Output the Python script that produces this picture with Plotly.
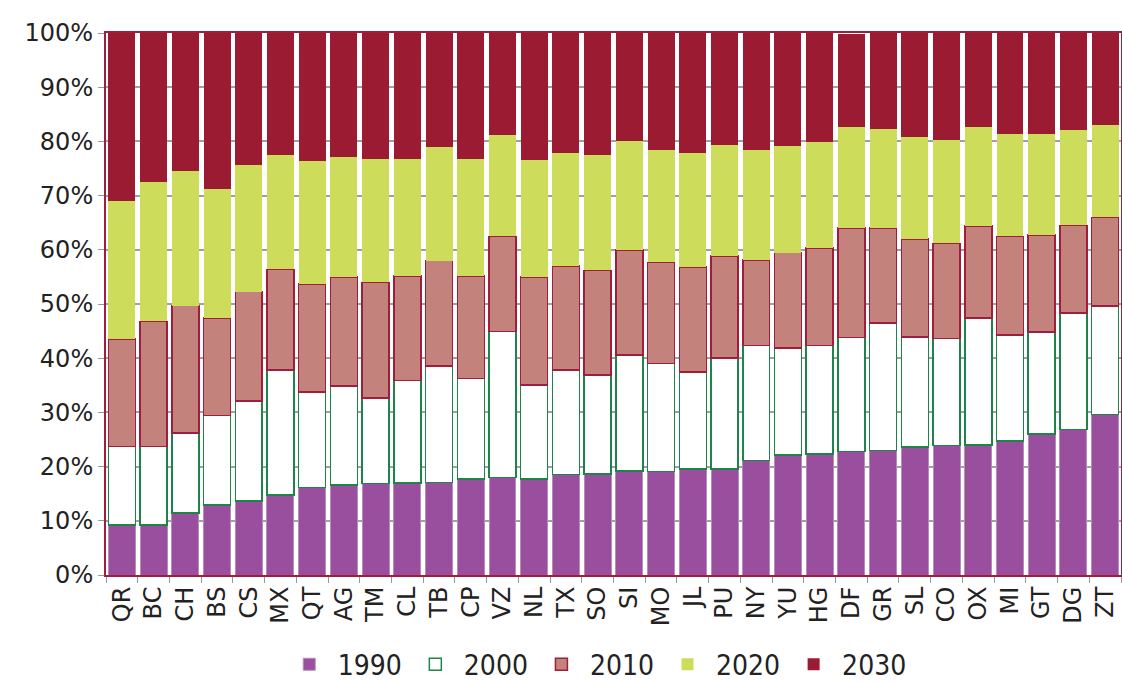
import plotly.graph_objects as go

states = ["QR","BC","CH","BS","CS","MX","QT","AG","TM","CL","TB","CP","VZ","NL","TX","SO",
          "SI","MO","JL","PU","NY","YU","HG","DF","GR","SL","CO","OX","MI","GT","DG","ZT"]

p1990 = [9.2, 9.2, 11.4, 12.9, 13.7, 14.8, 16.1, 16.6, 16.9, 17.0, 17.1, 17.7, 18.0, 17.7, 18.5, 18.6,
         19.2, 19.1, 19.6, 19.6, 21.1, 22.1, 22.3, 22.8, 23.0, 23.6, 23.9, 24.0, 24.7, 26.0, 26.8, 29.6]
p2000 = [14.5, 14.5, 14.8, 16.5, 18.4, 23.0, 17.7, 18.3, 15.8, 18.9, 21.5, 18.6, 26.9, 17.4, 19.3, 18.3,
         21.4, 19.9, 17.9, 20.4, 21.2, 19.8, 20.0, 21.0, 23.5, 20.3, 19.7, 23.4, 19.6, 18.8, 21.5, 20.0]
p2010 = [19.8, 23.1, 23.5, 18.0, 20.2, 18.6, 19.9, 20.1, 21.3, 19.3, 19.4, 18.9, 17.6, 19.9, 19.2, 19.3,
         19.4, 18.7, 19.3, 18.9, 15.8, 17.6, 18.0, 20.2, 17.5, 18.1, 17.6, 17.0, 18.2, 17.9, 16.2, 16.4]
p2020 = [25.5, 25.8, 24.8, 23.9, 23.4, 21.0, 22.6, 22.1, 22.7, 21.6, 20.9, 21.5, 18.7, 21.6, 20.9, 21.3,
         20.1, 20.7, 21.1, 20.5, 20.3, 19.7, 19.6, 18.7, 18.3, 18.9, 19.0, 18.2, 18.9, 18.7, 17.6, 17.0]
p2030 = [31.0, 27.4, 25.5, 28.7, 24.3, 22.6, 23.7, 22.9, 23.3, 23.2, 21.1, 23.3, 18.8, 23.4, 22.1, 22.5,
         19.9, 21.6, 22.1, 20.6, 21.6, 20.8, 20.1, 17.1, 17.7, 19.1, 19.8, 17.4, 18.6, 18.6, 17.9, 17.0]

series = [
    ("1990", p1990, "#9a4e9e", "#b58db9", 1),
    ("2000", p2000, "#ffffff", "#1e8449", 1.5),
    ("2010", p2010, "#c4827c", "#a01e3c", 1.5),
    ("2020", p2020, "#cddc5a", "#cddc5a", 0),
    ("2030", p2030, "#9b1b33", "#9b1b33", 0),
]

FONT = "DejaVu Sans"
LEGFONT = "DejaVu Sans Condensed"

fig = go.Figure()
for name, vals, fill, line, lw in series:
    fig.add_trace(go.Bar(
        x=states, y=vals, name=name,
        marker=dict(color=fill, line=dict(color=line, width=lw)),
    ))

fig.update_layout(
    barmode="stack",
    bargap=0.15,
    width=1122, height=683,
    margin=dict(l=106, r=1, t=33, b=108),
    plot_bgcolor="white",
    paper_bgcolor="white",
    font=dict(family=FONT, size=24, color="#222222"),
    legend=dict(orientation="h", x=0.483, xanchor="center",
                yref="container", y=0.027, yanchor="middle",
                font=dict(family=LEGFONT, size=28, color="#222222"),
                itemwidth=47, traceorder="normal"),
    xaxis=dict(
        tickangle=-90, ticks="outside", tickson="boundaries", ticklen=6, tickcolor="#999999",
        showline=True, linecolor="#a01e3c", linewidth=2, mirror=True, automargin=False,
        tickfont=dict(family=FONT, size=24, color="#222222"),
    ),
    yaxis=dict(
        range=[0, 100], dtick=10, ticksuffix="%",
        showgrid=True, gridcolor="#a0a0a0", gridwidth=1.5,
        ticks="outside", ticklen=6, tickcolor="#999999",
        showline=True, linecolor="#a01e3c", linewidth=2, mirror=True,
        zeroline=False, automargin=False,
        tickfont=dict(family=FONT, size=24, color="#222222"),
    ),
)

fig.write_html("out.html", config={"displayModeBar": False},
               post_script="document.body.style.margin='0';document.body.style.overflow='hidden';")
